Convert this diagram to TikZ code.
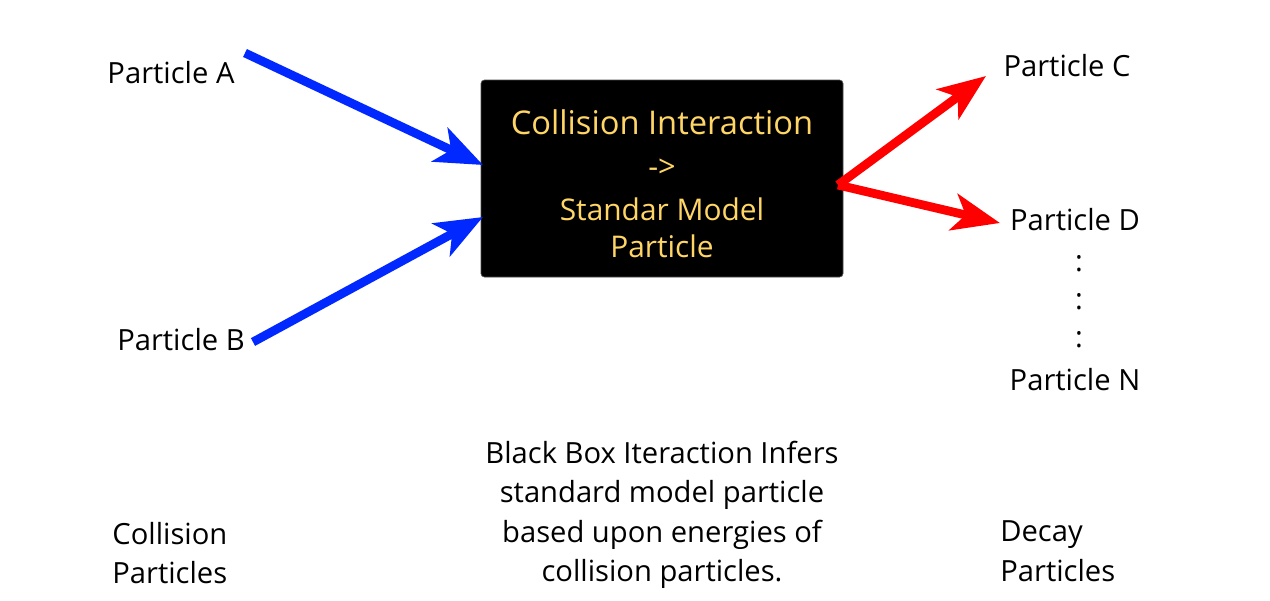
\documentclass[tikz,border=0pt]{standalone}
\usepackage{fontspec}
\setmainfont{Open Sans}
\usetikzlibrary{arrows.meta}
\definecolor{boxtext}{RGB}{255,214,102}
\definecolor{inblue}{RGB}{0,40,255}
\definecolor{outred}{RGB}{255,0,0}
\tikzset{
  lbl/.style={font=\fontsize{16.6}{22.5}\selectfont, inner sep=0pt, align=center},
  lblleft/.style={font=\fontsize{16.6}{22.5}\selectfont, inner sep=0pt, align=left},
  bluearrow/.style={draw=inblue, line width=5pt, -{Stealth[length=27pt, width=21pt, inset=7pt]}},
  redarrow/.style={draw=outred, line width=5pt, -{Stealth[length=27pt, width=21pt, inset=7pt]}},
  blackbox/.style={fill=black, draw=black!70, line width=0.4pt, rounded corners=2pt, minimum width=362*0.02cm, minimum height=197*0.02cm, inner sep=0pt},
  boxtxt/.style={text=boxtext, inner sep=0pt, align=center}
}
\begin{document}
\begin{tikzpicture}[x=0.02cm,y=-0.02cm]
\useasboundingbox (0,0) rectangle (1270,600);
\node[blackbox] (box) at (662,178.5) {};
\node[boxtxt, font=\fontsize{18.6}{22}\selectfont] (t1) at (662,122) {Collision Interaction};
\node[boxtxt, font=\fontsize{17.5}{20}\selectfont] (t2) at (662,168) {->};
\node[boxtxt, font=\fontsize{17}{20}\selectfont] (t3) at (662,209) {Standar Model};
\node[boxtxt, font=\fontsize{17}{20}\selectfont] (t4) at (662,246) {Particle};

\node[lbl] (pA) at (171,73) {Particle A};
\node[lbl] (pB) at (181,340) {Particle B};
\node[lbl] (pC) at (1067,66) {Particle C};
\node[lbl] (pD) at (1075,220) {Particle D};
\node[lbl] (d1) at (1079,264) {:};
\node[lbl] (d2) at (1079,302) {:};
\node[lbl] (d3) at (1079,340) {:};
\node[lbl] (pN) at (1075,380) {Particle N};

\node[lbl] (desc) at (662,515) {Black Box Iteraction Infers\\standard model particle\\based upon energies of\\collision particles.};
\node[lblleft, anchor=west] (coll) at (112,553) {Collision\\Particles};
\node[lblleft, anchor=west] (decay) at (1000,551) {Decay\\Particles};

\coordinate (a1) at (245,53);
\coordinate (a2) at (483,165);
\coordinate (b1) at (253,342);
\coordinate (b2) at (483,217);
\coordinate (r0) at (838,185);
\coordinate (c2) at (986,76);
\coordinate (e2) at (1000,223);
\draw[bluearrow] (a1) -- (a2);
\draw[bluearrow] (b1) -- (b2);
\draw[redarrow] (r0) -- (c2);
\draw[redarrow] (r0) -- (e2);
\end{tikzpicture}
\end{document}
